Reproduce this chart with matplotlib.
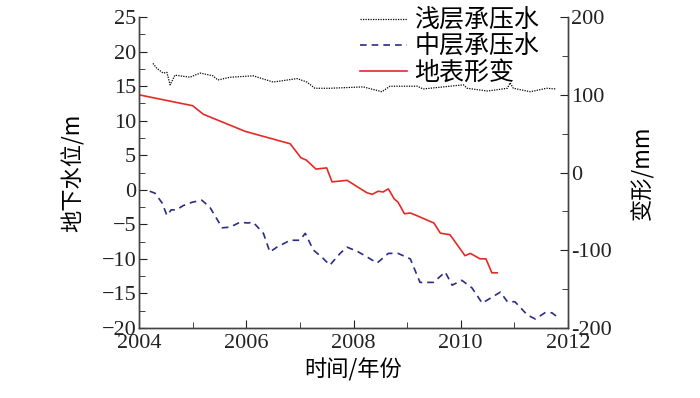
import matplotlib
matplotlib.use("Agg")
import matplotlib.pyplot as plt
from matplotlib.ticker import MultipleLocator, FuncFormatter

# shallow confined water level (m)
shallow_t = [2004.26, 2004.33, 2004.45, 2004.52, 2004.58, 2004.67, 2004.95, 2005.14, 2005.38, 2005.47,
             2005.7, 2006.13, 2006.5, 2006.95, 2007.13, 2007.28, 2007.56, 2008.18, 2008.53, 2008.68,
             2009.19, 2009.3, 2009.8, 2010.05, 2010.12, 2010.5, 2010.87, 2010.92, 2010.98, 2011.3,
             2011.6, 2011.77]
shallow_v = [18.3, 17.6, 16.9, 17.0, 15.2, 16.6, 16.3, 16.9, 16.5, 15.9,
             16.3, 16.5, 15.6, 16.1, 15.6, 14.7, 14.7, 14.9, 14.2, 15.0,
             15.0, 14.6, 15.0, 15.2, 14.7, 14.3, 14.7, 15.5, 14.7, 14.2,
             14.7, 14.6]

# middle confined water level (m)
middle_t = [2004.2, 2004.3, 2004.43, 2004.52, 2004.6, 2004.7, 2004.82, 2004.99, 2005.17, 2005.32,
            2005.55, 2005.7, 2005.88, 2006.03, 2006.13, 2006.32, 2006.44, 2006.57, 2006.82, 2007.0,
            2007.1, 2007.25, 2007.43, 2007.56, 2007.75, 2007.88, 2008.07, 2008.25, 2008.44, 2008.65,
            2008.83, 2009.06, 2009.24, 2009.49, 2009.71, 2009.84, 2010.02, 2010.21, 2010.4, 2010.55,
            2010.74, 2010.87, 2011.01, 2011.24, 2011.39, 2011.57, 2011.7, 2011.8]
middle_v = [-0.2, -0.5, -1.9, -3.7, -2.9, -2.9, -2.3, -1.8, -1.5, -2.5,
            -5.5, -5.4, -4.7, -4.8, -4.7, -6.3, -9.0, -8.3, -7.3, -7.3,
            -6.3, -8.7, -9.9, -10.9, -9.2, -8.3, -8.9, -9.7, -10.6, -9.2,
            -9.2, -10.0, -13.4, -13.4, -11.9, -13.8, -13.1, -14.2, -16.4, -15.7,
            -14.8, -16.2, -16.2, -18.1, -18.7, -17.8, -17.8, -18.4]

# ground deformation (mm)
deform_t = [2004.0, 2005.0, 2005.2, 2005.98, 2006.82, 2007.02, 2007.12, 2007.3, 2007.5, 2007.6,
            2007.88, 2008.25, 2008.35, 2008.46, 2008.55, 2008.65, 2008.76, 2008.83, 2008.95, 2009.06,
            2009.2, 2009.5, 2009.62, 2009.8, 2010.08, 2010.18, 2010.36, 2010.47, 2010.58, 2010.68]
deform_v = [100, 86, 75, 53, 37, 19, 16, 4.5, 6, -12,
            -10, -26, -28, -24, -25, -21, -34, -38, -53, -52,
            -56, -65, -78, -80, -107, -104, -111, -111, -129, -129]

serif = ['Liberation Serif', 'Noto Sans CJK SC']
cjk = ['Noto Sans CJK SC', 'Liberation Serif']
plt.rcParams['font.family'] = serif
plt.rcParams['font.size'] = 16

fig = plt.figure(figsize=(7, 3.98), dpi=100)
ax = fig.add_axes([0.1986, 0.1759, 0.6128, 0.7811])
ax2 = ax.twinx()

l1, = ax.plot(shallow_t, shallow_v, color='black', linestyle=(0, (1, 1)), linewidth=0.9, label='浅层承压水')
l2, = ax.plot(middle_t, middle_v, color='#2b2b8a', linestyle=(0, (4, 3)), linewidth=1.2, label='中层承压水')
l3, = ax2.plot(deform_t, deform_v, color='#e52a25', linewidth=1.2, label='地表形变')

ax.set_xlim(2004, 2012)
ax.set_ylim(-20, 25)
ax2.set_ylim(-200, 200)

ax.xaxis.set_major_locator(MultipleLocator(2))
ax.xaxis.set_minor_locator(MultipleLocator(1))
ax.yaxis.set_major_locator(MultipleLocator(5))
ax.yaxis.set_minor_locator(MultipleLocator(2.5))
ax2.yaxis.set_major_locator(MultipleLocator(100))
ax2.yaxis.set_minor_locator(MultipleLocator(50))
ax2.yaxis.set_major_formatter(FuncFormatter(lambda v, p: '%d' % v))

for a in (ax, ax2):
    a.spines['top'].set_visible(False)
    for s in a.spines.values():
        s.set_color('#444444')
        s.set_linewidth(1.0)
    a.tick_params(which='both', direction='in', colors='#222222', pad=2)
    a.tick_params(which='major', length=6)
    a.tick_params(which='minor', length=4)
ax.tick_params(axis='x', pad=4)

ax.set_xlabel('时间/年份', family=cjk, fontsize=16, fontweight='light', labelpad=4)
ax.set_ylabel('地下水位/m', family=cjk, fontsize=16, fontweight='light', labelpad=12)
ax2.set_ylabel('变形/mm', family=cjk, fontsize=16, fontweight='light', labelpad=14)

leg = ax.legend(handles=[l1, l2, l3], loc='upper right', bbox_to_anchor=(0.785, 1.005),
                bbox_transform=fig.transFigure, frameon=False,
                prop={'family': cjk, 'size': 18, 'weight': 'light'}, handlelength=1.9,
                handletextpad=0.3, labelspacing=0.0, borderaxespad=0.0)

fig.savefig('out.png', dpi=100)
